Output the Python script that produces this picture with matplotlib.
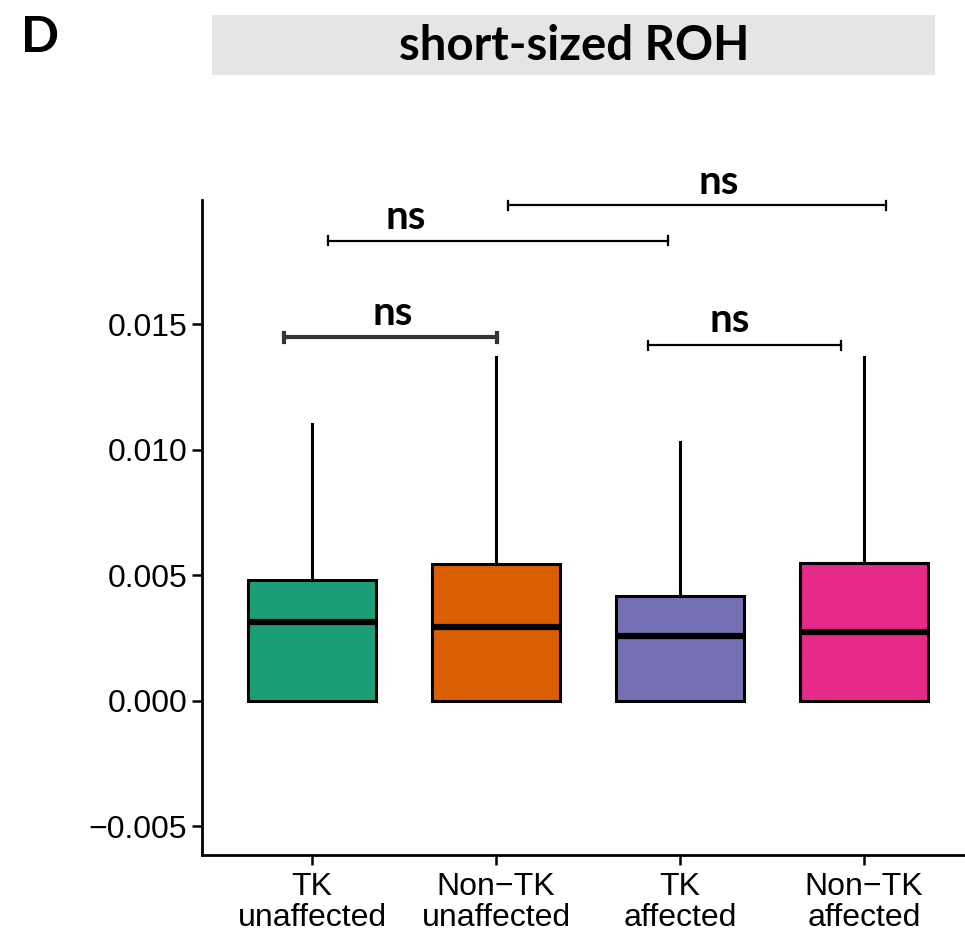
import matplotlib
matplotlib.use('Agg')
import matplotlib.pyplot as plt
from matplotlib.patches import Rectangle
from matplotlib import font_manager

# data
groups = ["TK\nunaffected", "Non\u2212TK\nunaffected", "TK\naffected", "Non\u2212TK\naffected"]
colors = ["#1B9E77", "#D95F02", "#7570B3", "#E7298A"]
q1 = [0.0, 0.0, 0.0, 0.0]
med = [0.00315, 0.00295, 0.00259, 0.00275]
q3 = [0.00482, 0.00546, 0.00418, 0.0055]
wlo = [0.0, 0.0, 0.0, 0.0]
whi = [0.01104, 0.0137, 0.01032, 0.0137]

# significance brackets: (x start, x end, y, label x, label y)
br_x0 = [0.848, 2.826, 1.087, 2.065]
br_x1 = [2.005, 3.875, 2.935, 4.12]
br_y = [0.0145, 0.01418, 0.01833, 0.01976]
lab_x = [1.44, 3.27, 1.51, 3.21]
lab_y = [0.01545, 0.01515, 0.01925, 0.02065]
br_lw = [3.0, 1.6, 1.6, 1.6]
br_col = ["#333333", "black", "black", "black"]

plt.rcParams['font.family'] = ['Liberation Sans', 'DejaVu Sans']
names = {f.name for f in font_manager.fontManager.ttflist}
narrow = 'Liberation Sans Narrow' if 'Liberation Sans Narrow' in names else 'Liberation Sans'

fig = plt.figure(figsize=(9.65, 9.36), dpi=100)
W, H = 965, 936
ax = fig.add_axes([201.6 / W, 1 - 855 / H, (974.4 - 201.6) / W, (855 - 200) / H])

stats = []
for i in range(4):
    stats.append(dict(med=med[i], q1=q1[i], q3=q3[i], whislo=wlo[i], whishi=whi[i], fliers=[]))
bp = ax.bxp(stats, positions=[1, 2, 3, 4], widths=0.7, patch_artist=True, showcaps=False,
            boxprops=dict(linewidth=2.2, edgecolor='black'),
            medianprops=dict(color='black', linewidth=4.5, solid_capstyle='butt'),
            whiskerprops=dict(color='black', linewidth=2.2))
for patch, c in zip(bp['boxes'], colors):
    patch.set_facecolor(c)

ax.set_xlim(0.4, 4.6)
ax.set_ylim(-0.00614, 0.01996)
ax.set_yticks([-0.005, 0.0, 0.005, 0.010, 0.015])
ax.set_yticklabels(["\u22120.005", "0.000", "0.005", "0.010", "0.015"])
ax.set_xticks([1, 2, 3, 4])
ax.set_xticklabels(groups, linespacing=1.05, family=[narrow, 'DejaVu Sans'], fontsize=23)
ax.tick_params(axis='y', labelsize=23)
ax.tick_params(axis='both', width=1.8, length=7, color='black', labelcolor='black')
ax.tick_params(axis='x', pad=5)
for s in ['top', 'right']:
    ax.spines[s].set_visible(False)
for s in ['left', 'bottom']:
    ax.spines[s].set_linewidth(2)

# brackets with end ticks
tick_h = 0.00018
for i in range(4):
    ax.plot([br_x0[i], br_x1[i]], [br_y[i], br_y[i]], color=br_col[i], lw=br_lw[i], clip_on=False)
    for xx in (br_x0[i], br_x1[i]):
        ax.plot([xx, xx], [br_y[i] - tick_h, br_y[i] + tick_h], color=br_col[i], lw=br_lw[i], clip_on=False)
    ax.text(lab_x[i], lab_y[i], "ns", ha='center', va='center', fontsize=29,
            fontweight='bold', family=['Lato', 'DejaVu Sans'], clip_on=False)

# title strip
fig.patches.append(Rectangle((212 / W, 1 - 75 / H), (935 - 212) / W, 60 / H,
                             transform=fig.transFigure, facecolor='#E5E5E5', edgecolor='none'))
fig.text(574 / W, 1 - 46 / H, "short-sized ROH", ha='center', va='center', fontsize=34,
         fontweight='bold', family=['Lato', 'DejaVu Sans'])
fig.text(40 / W, 1 - 37 / H, "D", ha='center', va='center', fontsize=36,
         fontweight='bold', family=['Lato', 'DejaVu Sans'])

fig.savefig("out.png", dpi=100)
